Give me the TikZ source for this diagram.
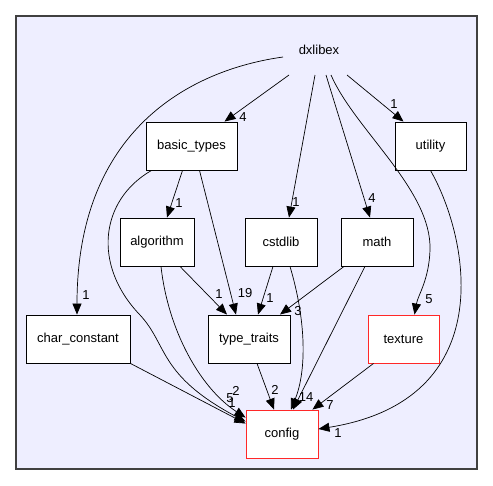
\documentclass[tikz,border=0pt]{standalone}
\usepackage{fontspec}
\setmainfont{Liberation Sans}
\usetikzlibrary{arrows.meta}
\definecolor{clusterbg}{RGB}{238,238,255}
\definecolor{redline}{RGB}{255,40,40}
\tikzset{
  dirbox/.style={draw=black, fill=white, line width=0.9pt, minimum height=48pt, inner sep=0pt, font=\fontsize{13}{15}\selectfont},
  redbox/.style={dirbox, draw=redline},
  dep/.style={draw=black, line width=0.7pt, -{Triangle[length=11pt,width=9pt]}},
  num/.style={font=\fontsize{13}{15}\selectfont, inner sep=0pt},
}
\begin{document}
\begin{tikzpicture}[x=1pt,y=-1pt]
    \useasboundingbox (0,0) rectangle (493,485);
    % cluster
    \draw[fill=clusterbg, draw=black!75, line width=1.2pt] (16,16) rectangle (477,469);
    \node[num] (dxlibex) at (319,50) {dxlibex};

    % directories
    \node[dirbox, minimum width=91pt] (basic_types) at (191.5,146) {basic\_types};
    \node[dirbox, minimum width=71pt] (utility) at (430.5,146) {utility};
    \node[dirbox, minimum width=74pt] (algorithm) at (157,242) {algorithm};
    \node[dirbox, minimum width=72pt] (cstdlib) at (281,242) {cstdlib};
    \node[dirbox, minimum width=72pt] (math) at (377,242) {math};
    \node[dirbox, minimum width=104pt] (char_constant) at (78,339) {char\_constant};
    \node[dirbox, minimum width=82pt] (type_traits) at (249,339) {type\_traits};
    \node[redbox, minimum width=71pt] (texture) at (403.5,339) {texture};
    \node[redbox, minimum width=72pt] (config) at (282,434) {config};

    % start points below the cluster title
    \coordinate (d0) at ([xshift=-36pt,yshift=-7pt]dxlibex.center);
    \coordinate (d1) at ([xshift=-30pt,yshift=-25pt]dxlibex.center);
    \coordinate (d2) at ([xshift=-4pt,yshift=-25pt]dxlibex.center);
    \coordinate (d3) at ([xshift=7pt,yshift=-25pt]dxlibex.center);
    \coordinate (d4) at ([xshift=12pt,yshift=-25pt]dxlibex.center);
    \coordinate (d5) at ([xshift=28pt,yshift=-25pt]dxlibex.center);

    % from dxlibex
    \draw[dep] (d0) .. controls (190,70) and (77,130) .. ([xshift=-1pt]char_constant.north);
    \draw[dep] (d1) -- ([xshift=33pt]basic_types.north);
    \draw[dep] (d2) -- ([xshift=8pt]cstdlib.north);
    \draw[dep] (d3) -- ([xshift=-7pt]math.north);
    \draw[dep] (d4) .. controls (355,130) and (432,190) .. (430,250) .. controls (429,280) and (418,295) .. ([xshift=11pt]texture.north);
    \draw[dep] (d5) -- ([xshift=-27pt]utility.north);
    \node[num] (n1) at (86,295) {1};
    \node[num] (n2) at (243,117) {4};
    \node[num] (n3) at (296,202) {1};
    \node[num] (n4) at (372,198) {4};
    \node[num] (n5) at (429,299) {5};
    \node[num] (n6) at (394,104) {1};

    % from basic_types
    \draw[dep] ([xshift=-9pt]basic_types.south) -- ([xshift=10pt]algorithm.north);
    \draw[dep] ([xshift=8pt]basic_types.south) -- ([xshift=-13pt]type_traits.north);
    \draw[dep] ([xshift=-40pt]basic_types.south) .. controls (100,200) and (92,265) .. (140,315) .. controls (168,345) and (158,375) .. ([yshift=-12pt]config.north west);
    \node[num] (n7) at (179,203) {1};
    \node[num] (n8) at (245,293) {19};

    % from algorithm, cstdlib, math
    \draw[dep] ([xshift=23pt]algorithm.south) -- ([xshift=-22pt]type_traits.north);
    \draw[dep] ([xshift=4pt]algorithm.south) .. controls (168,330) and (200,388) .. ([yshift=-8pt]config.north west);
    \draw[dep] ([xshift=-8pt]cstdlib.south) -- ([xshift=9pt]type_traits.north);
    \draw[dep] ([xshift=9pt]cstdlib.south) .. controls (306,320) and (307,370) .. ([xshift=9pt]config.north);
    \draw[dep] ([xshift=-33pt]math.south) -- ([xshift=31pt]type_traits.north);
    \draw[dep] ([xshift=-12pt]math.south) -- ([xshift=11pt]config.north);
    \node[num] (n9) at (219,294) {1};
    \node[num] (n10) at (270,298) {1};
    \node[num] (n11) at (298,311) {3};
    \node[num] (n12) at (306,397) {14};

    % into config
    \draw[dep] (char_constant.south east) -- ([yshift=-14pt]config.north west);
    \draw[dep] ([xshift=8pt]type_traits.south) -- ([xshift=-8pt]config.north);
    \draw[dep] ([xshift=-30pt]texture.south) -- ([xshift=-6pt]config.north east);
    \draw[dep] (utility.south) .. controls (470,240) and (500,400) .. ([yshift=5pt]config.east);
    \node[num] (n13) at (236,391) {2};
    \node[num] (n14) at (230,398) {5};
    \node[num] (n15) at (232,403) {1};
    \node[num] (n16) at (275,390) {2};
    \node[num] (n17) at (330,405) {7};
    \node[num] (n18) at (338,433) {1};
\end{tikzpicture}
\end{document}
